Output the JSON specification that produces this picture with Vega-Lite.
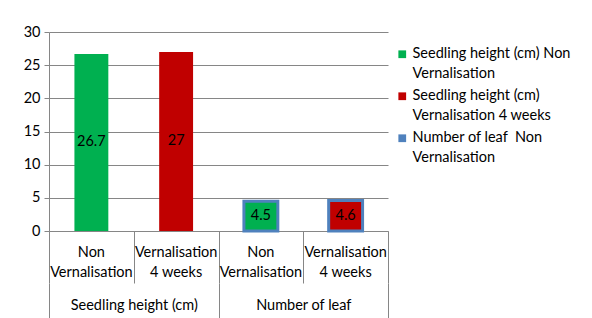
{
  "$schema": "https://vega.github.io/schema/vega-lite/v6.json",
  "width": 339,
  "height": 199,
  "autosize": "none",
  "padding": {"left": 49, "top": 32, "right": 204, "bottom": 87},
  "background": "white",
  "config": {
    "font": "Lato",
    "view": {"stroke": null},
    "axis": {"labelFont": "Lato", "labelFontSize": 14.5, "labelColor": "#000000"},
    "style": {"guide-label": {"lineHeight": 20}}
  },
  "data": {
    "values": [
      {"group": "Seedling height (cm)", "cat": "Seedling height (cm) Non Vernalisation", "series": "Seedling height (cm) Non Vernalisation", "value": 26.7},
      {"group": "Seedling height (cm)", "cat": "Seedling height (cm) Vernalisation 4 weeks", "series": "Seedling height (cm) Vernalisation 4 weeks", "value": 27},
      {"group": "Number of leaf", "cat": "Number of leaf Non Vernalisation", "series": "Seedling height (cm) Non Vernalisation", "value": 4.5},
      {"group": "Number of leaf", "cat": "Number of leaf Vernalisation 4 weeks", "series": "Seedling height (cm) Vernalisation 4 weeks", "value": 4.6}
    ]
  },
  "layer": [
    {
      "mark": {"type": "bar", "width": {"band": 0.4}, "strokeWidth": 3},
      "encoding": {
        "x": {
          "field": "cat", "type": "nominal", "sort": null,
          "scale": {"paddingInner": 0, "paddingOuter": 0},
          "axis": {
            "title": null, "orient": "bottom", "labels": false,
            "tickBand": "extent", "tickSize": 52, "tickColor": "#868686", "domainColor": "#868686", "grid": false
          }
        },
        "y": {
          "field": "value", "type": "quantitative",
          "scale": {"domain": [0, 30]},
          "axis": {
            "title": null, "values": [0, 5, 10, 15, 20, 25, 30], "grid": true,
            "gridColor": "#868686", "domainColor": "#868686", "tickColor": "#868686",
            "tickSize": 5, "labelPadding": 4
          }
        },
        "color": {
          "field": "series", "type": "nominal",
          "scale": {
            "domain": ["Seedling height (cm) Non Vernalisation", "Seedling height (cm) Vernalisation 4 weeks", "Number of leaf  Non Vernalisation"],
            "range": ["#00B050", "#C00000", "#4F81BD"]
          },
          "legend": {
            "title": null, "orient": "none", "legendX": 346, "legendY": 15,
            "symbolType": "square", "symbolSize": 60, "symbolStrokeWidth": 0,
            "labelFont": "Lato", "labelFontSize": 14.5, "labelColor": "#000000",
            "labelOffset": 3, "rowPadding": 7, "labelLimit": 250,
            "labelExpr": "datum.label == 'Seedling height (cm) Non Vernalisation' ? ['Seedling height (cm) Non', 'Vernalisation'] : datum.label == 'Seedling height (cm) Vernalisation 4 weeks' ? ['Seedling height (cm)', 'Vernalisation 4 weeks'] : ['Number of leaf \u00a0Non', 'Vernalisation']"
          }
        },
        "stroke": {
          "condition": {"test": "datum.group === 'Number of leaf'", "value": "#4F81BD"},
          "value": null
        }
      }
    },
    {
      "mark": {"type": "text", "fontSize": 14.5, "font": "Lato", "fill": "#000000"},
      "encoding": {
        "x": {"field": "cat", "type": "nominal", "sort": null, "scale": {"paddingInner": 0, "paddingOuter": 0}, "axis": null},
        "y": {"field": "value", "type": "quantitative", "scale": {"domain": [0, 60]}, "axis": null},
        "text": {"field": "value", "type": "quantitative"}
      }
    },
    {
      "mark": {"type": "bar", "opacity": 0},
      "encoding": {
        "x": {
          "field": "cat", "type": "nominal", "sort": null,
          "scale": {"paddingInner": 0, "paddingOuter": 0},
          "axis": {
            "title": null, "orient": "bottom", "domain": false, "ticks": false, "labelAngle": 0,
            "labelExpr": "indexof(datum.label, 'Non') >= 0 ? ['Non', 'Vernalisation'] : ['Vernalisation', '4 weeks']",
            "labelPadding": 21, "labelBaseline": "middle", "labelLineHeight": 20, "grid": false
          }
        },
        "y": {"field": "value", "type": "quantitative", "scale": {"domain": [0, 30]}, "axis": null}
      }
    },
    {
      "mark": {"type": "bar", "opacity": 0},
      "encoding": {
        "x": {
          "field": "group", "type": "nominal", "sort": null,
          "scale": {"paddingInner": 0, "paddingOuter": 0},
          "axis": {
            "title": null, "orient": "bottom", "offset": 52, "domain": false, "labelAngle": 0,
            "tickBand": "extent", "tickSize": 35, "tickColor": "#868686",
            "labelPadding": -13, "labelBaseline": "middle", "grid": false
          }
        },
        "y": {"field": "value", "type": "quantitative", "scale": {"domain": [0, 30]}, "axis": null}
      }
    }
  ],
  "resolve": {
    "scale": {"x": "independent", "y": "independent"},
    "axis": {"x": "independent", "y": "independent"}
  }
}
